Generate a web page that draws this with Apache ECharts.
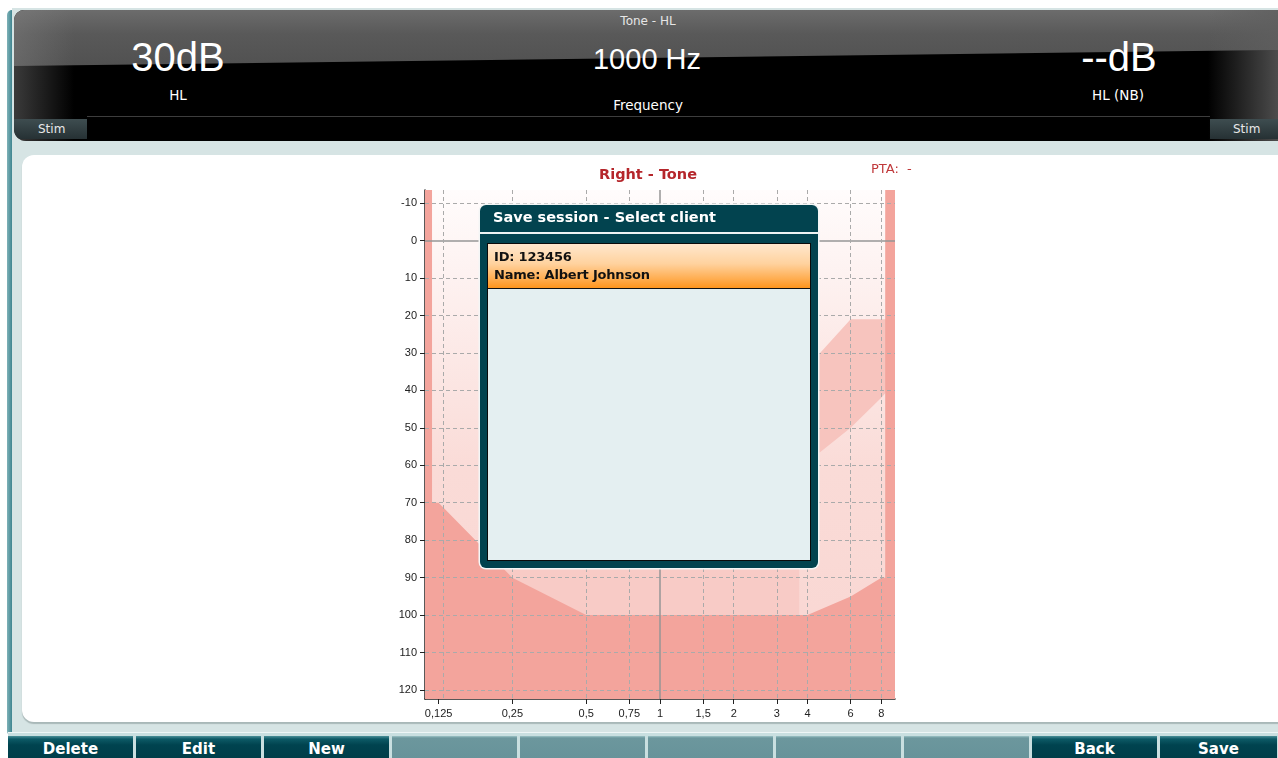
<!DOCTYPE html>
<html>
<head>
<meta charset="utf-8">
<script src="https://cdn.jsdelivr.net/npm/echarts@6/dist/echarts.min.js"></script>
<style>
  body { margin: 0; width: 1278px; height: 758px; overflow: hidden; background: #fff; position: relative; font-family: 'DejaVu Sans', sans-serif; }
  .abs { position: absolute; }
  #frame { left: 12px; top: 8px; width: 1270px; height: 730px; background: #d6e4e4; }
  #stripe { left: 7px; top: 10px; width: 5px; height: 726px; background: linear-gradient(to right, #7fb2b8, #3f8590); border-radius: 5px 0 0 5px; }
  #header { left: 14px; top: 10px; width: 1264px; height: 131px; background: #000; border-radius: 10px 0 0 12px; overflow: hidden; }
  #gloss { left: 0; top: 0; width: 100%; height: 60px; background: linear-gradient(#6c6c6c, #595959 40%, #505050); clip-path: polygon(0 0, 100% 0, 100% 40px, 0 56px); }
  #lshade { left: 0; top: 0; width: 60px; height: 100%; background: linear-gradient(to right, rgba(130,130,130,0.45), rgba(0,0,0,0)); }
  #rshade { right: 0; top: 0; width: 70px; height: 100%; background: linear-gradient(to left, rgba(95,95,95,0.8), rgba(0,0,0,0)); }
  #sep { left: 73px; top: 106px; width: 1123px; height: 1px; background: #3d3d3d; }
  .tab { top: 109px; height: 20px; background: linear-gradient(#3e4d50, #263134); color: #e8e8e8; font-size: 12px; line-height: 20px; }
  .htxt { color: #fff; transform: translate(-50%, -50%); white-space: nowrap; line-height: 1; }
  .big { font-family: 'Liberation Sans', Arial, sans-serif; font-size: 40px; }
  .small { font-size: 13.5px; }
  #panel { left: 22px; top: 155px; width: 1260px; height: 567px; background: #fff; border-radius: 12px 0 0 12px; box-shadow: 0 2px 1px #a9b8b8; }
  #chart { left: 22px; top: 155px; width: 1256px; height: 567px; }
  #btnbar { left: 8px; top: 732px; width: 1270px; height: 26px; background: #c9dfe0; border-top: 1px solid #eef6f6; }
  .btn { top: 736px; width: 125px; height: 22px; color: #fff; font-weight: bold; font-size: 15px; line-height: 27px; text-align: center; }
  .on { background: linear-gradient(#4a8f98 0, #0d5a66 3px, #00434f 9px, #003e49); }
  .off { background: linear-gradient(#9cc3c6 0, #6c979d 2px, #67939a); }
  #dialog { left: 480px; top: 205px; width: 338px; height: 363px; background: #02434f; border-radius: 6px; box-shadow: 0 0 0 1.5px #f4f6f6; }
  #dtitle { left: 13px; top: 3px; color: #fff; font-weight: bold; font-size: 14.5px; line-height: 18px; }
  #dline { left: 0; top: 27px; width: 338px; height: 2px; background: #eef3f3; }
  #list { left: 7px; top: 38px; width: 322px; height: 316px; background: #e4eff1; border: 1px solid #0a0a0a; }
  #item { left: 0; top: 0; width: 322px; height: 44px; background: linear-gradient(#ffe7cd, #ffd29e 45%, #ffac4e 80%, #ff951d); border-bottom: 1px solid #111; }
  #item div { position: absolute; left: 6px; color: #111; font-weight: bold; font-size: 13px; line-height: 18px; letter-spacing: -0.2px; }
</style>
</head>
<body>
<div id="frame" class="abs"></div>
<div id="stripe" class="abs"></div>

<div id="header" class="abs">
  <div id="gloss" class="abs"></div>
  <div id="lshade" class="abs"></div>
  <div id="rshade" class="abs"></div>
  <div id="sep" class="abs"></div>
  <div class="abs tab" style="left:0; width:73px;"><span style="margin-left:24px;">Stim</span></div>
  <div class="abs tab" style="left:1196px; width:68px;"><span style="margin-left:23px;">Stim</span></div>
</div>
<div class="abs htxt" style="left:648px; top:21px; font-size:12px; color:#e6e6e6;">Tone - HL</div>
<div class="abs htxt big" style="left:178px; top:57px;">30dB</div>
<div class="abs htxt small" style="left:178px; top:96px;">HL</div>
<div class="abs htxt big" style="left:647px; top:59px; font-size:29px;">1000 Hz</div>
<div class="abs htxt small" style="left:648px; top:106px;">Frequency</div>
<div class="abs htxt big" style="left:1119px; top:57px;">--dB</div>
<div class="abs htxt small" style="left:1118px; top:96px;">HL (NB)</div>

<div id="panel" class="abs"></div>
<div id="chart" class="abs"></div>

<div id="btnbar" class="abs"></div>
<div id="buttons"></div>

<div id="dialog" class="abs">
  <div id="dtitle" class="abs">Save session - Select client</div>
  <div id="dline" class="abs"></div>
  <div id="list" class="abs">
    <div id="item" class="abs">
      <div style="top:4px;">ID: 123456</div>
      <div style="top:22px;">Name: Albert Johnson</div>
    </div>
  </div>
</div>

<script>
// axis ticks
const freqTicks = [0.125, 0.25, 0.5, 0.75, 1, 1.5, 2, 3, 4, 6, 8];
const freqLabels = ['0,125', '0,25', '0,5', '0,75', '1', '1,5', '2', '3', '4', '6', '8'];
const dbTicks = [-10, 0, 10, 20, 30, 40, 50, 60, 70, 80, 90, 100, 110, 120];

// max output of the transducer (kHz, dB HL), with the out-of-range edges
const maxOutput = [
  [0.1, -20], [0.1175, -20], [0.1175, 70], [0.125, 70], [0.25, 90], [0.5, 100],
  [4, 100], [6, 95], [8, 90], [8.3, 90], [8.3, -20], [10, -20]
];
// shaded band on the high frequencies (top and bottom edge)
const bandUpper = [[2.5, 40], [4, 33], [4.5, 30], [6, 21], [8, 21], [10, 21]];
const bandLower = [[2.5, 64], [4, 58], [4.5, 56.5], [6, 50], [8, 42], [8.5, 40], [10, 40]];
// lower shaded area under the dialog
const lowArea = [[0.2, 80], [3.7, 80]];

// bottom buttons
const buttons = ['Delete', 'Edit', 'New', '', '', '', '', '', 'Back', 'Save'];

const btnHost = document.getElementById('buttons');
buttons.forEach((b, i) => {
  const d = document.createElement('div');
  d.className = 'abs btn ' + (b ? 'on' : 'off');
  d.style.left = (8 + 128 * i) + 'px';
  if (i === 9) d.style.width = '117px';
  d.textContent = b;
  btnHost.appendChild(d);
});

const chart = echarts.init(document.getElementById('chart'));

const gridTop = 35, gridHeight = 509;
const bgStops = [
  { offset: 0, color: '#fffcfc' },
  { offset: 0.55, color: '#fadbd7' },
  { offset: 1, color: '#f9d6d2' }
];

const dashStyle = { color: '#aaaaaa', type: [4, 3], width: 1 };
const solidStyle = { color: '#969696', type: 'solid', width: 1.5 };
const gridLines = [
  ...dbTicks.map(v => ({ yAxis: v, lineStyle: v === 0 ? solidStyle : dashStyle })),
  ...freqTicks.map(f => ({ xAxis: f, lineStyle: f === 1 ? solidStyle : dashStyle }))
];

const labelFont = { fontFamily: 'Liberation Sans', fontSize: 11, color: '#222' };
const areaLine = { type: 'line', symbol: 'none', showSymbol: false, silent: true, clip: true, lineStyle: { width: 0, opacity: 0 } };

chart.setOption({
  animation: false,
  title: [
    {
      text: 'Right - Tone',
      left: 572,
      top: 8,
      textStyle: { color: '#b5262b', fontSize: 14.5, fontWeight: 'bold', fontFamily: 'DejaVu Sans' }
    },
    {
      text: 'PTA:  -',
      left: 844,
      top: 3,
      textStyle: { color: '#c0393b', fontSize: 13, fontWeight: 'normal', fontFamily: 'DejaVu Sans' }
    }
  ],
  grid: {
    left: 403, top: gridTop, width: 470, height: gridHeight,
    show: true, borderWidth: 0,
    backgroundColor: new echarts.graphic.LinearGradient(0, 0, 0, 1, bgStops)
  },
  xAxis: {
    type: 'log',
    min: 0.11,
    max: 9.1,
    axisLine: { onZero: false, lineStyle: { color: '#222', width: 1.5 } },
    axisTick: { customValues: freqTicks, length: 5, lineStyle: { color: '#222' } },
    axisLabel: {
      customValues: freqTicks,
      margin: 9,
      ...labelFont,
      formatter: v => {
        const i = freqTicks.findIndex(f => Math.abs(f - v) < 1e-6);
        return i >= 0 ? freqLabels[i] : '';
      }
    },
    splitLine: { show: false },
    minorTick: { show: false }
  },
  yAxis: {
    type: 'value',
    inverse: true,
    min: -13.5,
    max: 122.4,
    axisLine: { show: true, onZero: false, lineStyle: { color: '#222', width: 1.5 } },
    axisTick: { customValues: dbTicks, length: 5, lineStyle: { color: '#222' } },
    axisLabel: { customValues: dbTicks, margin: 8, ...labelFont },
    splitLine: { show: false }
  },
  series: [
    // band: fill from its top edge down, then repaint the background below its bottom edge
    { ...areaLine, data: bandUpper, areaStyle: { color: '#f7c4be', opacity: 1, origin: 'end' } },
    {
      ...areaLine,
      data: bandLower,
      areaStyle: {
        opacity: 1,
        origin: 'end',
        color: new echarts.graphic.LinearGradient(0, gridTop, 0, gridTop + gridHeight, bgStops, true)
      }
    },
    { ...areaLine, data: lowArea, areaStyle: { color: '#f8cbc6', opacity: 1, origin: 'end' } },
    { ...areaLine, data: maxOutput, areaStyle: { color: '#f3a49c', opacity: 1, origin: 'end' } },
    {
      type: 'line',
      data: [],
      silent: true,
      z: 5,
      markLine: {
        silent: true,
        symbol: ['none', 'none'],
        label: { show: false },
        animation: false,
        data: gridLines
      }
    }
  ]
});
</script>
</body>
</html>
